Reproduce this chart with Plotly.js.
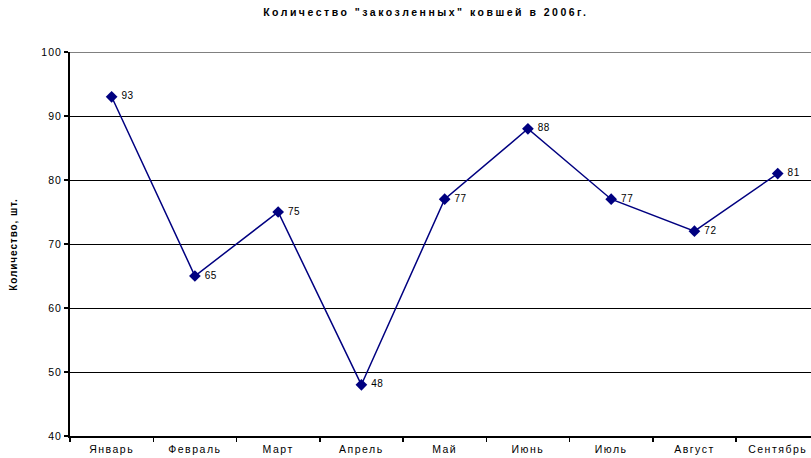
<!DOCTYPE html>
<html><head><meta charset="utf-8">
<script src="https://cdn.plot.ly/plotly-3.0.1.min.js"></script>
<style>
body{margin:0;padding:0;background:#fff}#c{width:811px;height:458px}
#c .xtick text{letter-spacing:1.5px}
#c .ytick text{letter-spacing:1px}
#c .gtitle{letter-spacing:2.5px}
#c .annotation-text{letter-spacing:0.9px}
#c .textpoint text{letter-spacing:0.5px}
</style>
</head><body><div id="c"></div>
<script>
const months = ["Январь","Февраль","Март","Апрель","Май","Июнь","Июль","Август","Сентябрь"];
const values = [93,65,75,48,77,88,77,72,81];
const yTicks = [40,50,60,70,80,90,100];
const chartTitle = 'Количество "закозленных" ковшей в 2006г.';
const yTitle = 'Количество, шт.';

const fam = '"Liberation Sans", Arial, sans-serif';
const tickFont = {family:fam, size:10.5, color:'#000'};
const trace = {
  x: months, y: values, type:'scatter', mode:'lines+markers+text',
  line:{color:'#000080', width:1.5},
  marker:{symbol:'diamond', size:9, color:'#000080'},
  text: values.map(v => '\u00a0' + v), textposition:'middle right',
  textfont:{family:fam, size:10, color:'#000'},
  cliponaxis:false, hoverinfo:'none'
};
const layout = {
  width:811, height:458,
  margin:{l:70, r:0, t:52, b:22},
  paper_bgcolor:'#fff', plot_bgcolor:'#fff',
  font: tickFont,
  showlegend:false,
  title:{text:'<b>'+chartTitle+'</b>', font:{family:fam, size:10.5, color:'#000'}, x:0.525, xref:'container', y:0.973, yref:'container', yanchor:'middle'},
  xaxis:{type:'category', range:[-0.5, 8.4], showgrid:false, showline:true, linecolor:'#000', linewidth:2,
    ticks:'outside', tickson:'boundaries', ticklen:4, tickcolor:'#000', tickwidth:1.5, tickfont:tickFont, ticklabelstandoff:2, zeroline:false, fixedrange:true},
  yaxis:{range:[40,100], tickvals:yTicks, showgrid:true, gridcolor:'#000', gridwidth:1, showline:true, linecolor:'#000', linewidth:2,
    ticks:'outside', ticklen:4, tickcolor:'#000', tickwidth:1.5, tickfont:tickFont, zeroline:false, fixedrange:true},
  shapes:[{type:'line', xref:'paper', yref:'y', x0:0, x1:1, y0:100, y1:100, line:{color:'#808080', width:2}}],
  annotations:[{text:'<b>'+yTitle+'</b>', xref:'paper', yref:'paper', x:-0.077, y:0.5, xanchor:'center', yanchor:'middle', textangle:-90, showarrow:false, font:{family:fam, size:10, color:'#000'}}]
};
Plotly.newPlot('c', [trace], layout, {displayModeBar:false, staticPlot:true});
</script></body></html>
